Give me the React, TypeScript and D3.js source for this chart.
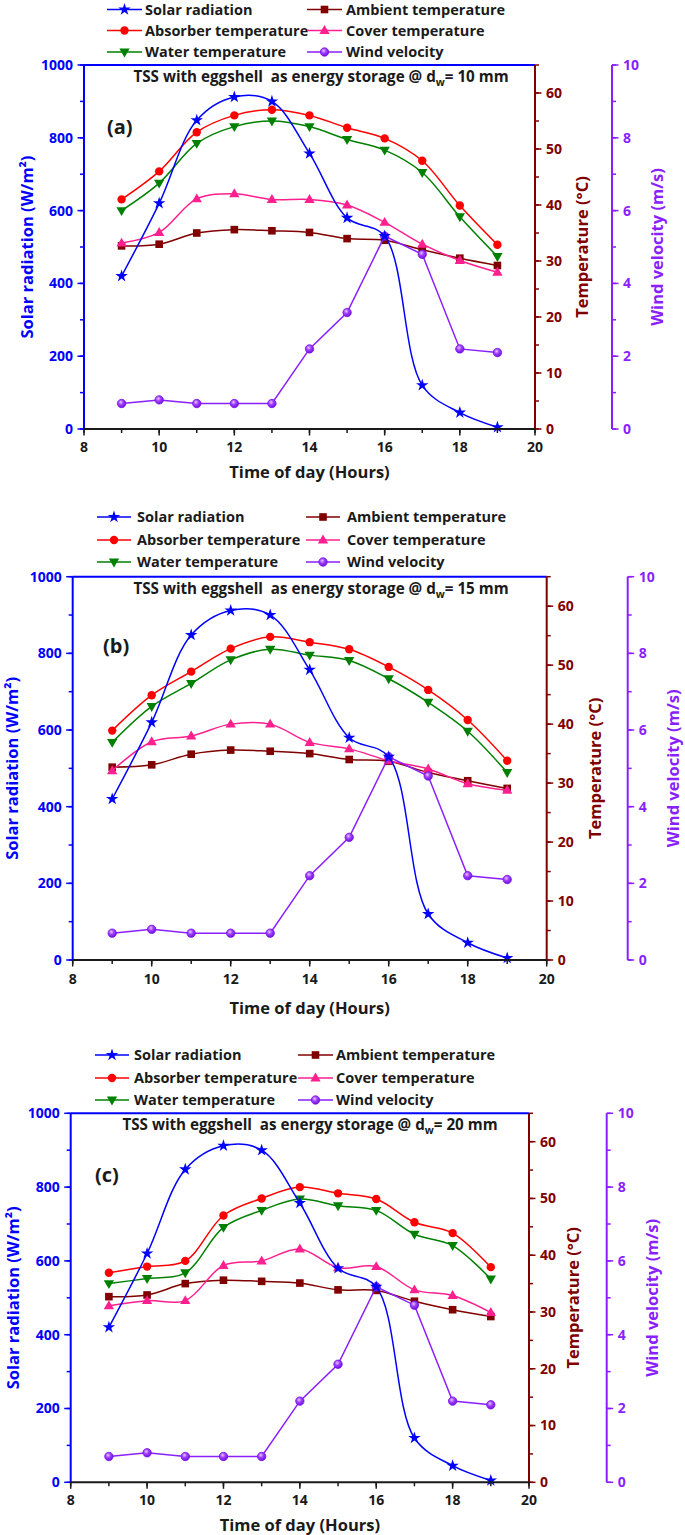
import React from 'react';
import * as d3 from 'd3';

// ---------- data ----------
const hours = [9, 10, 11, 12, 13, 14, 15, 16, 17, 18, 19];
const solarRadiation = [420, 620, 848, 912, 900, 757, 580, 530, 120, 45, 5];
const windVelocity = [0.7, 0.8, 0.7, 0.7, 0.7, 2.2, 3.2, 5.3, 4.8, 2.2, 2.1];

const absorberA = [41, 46, 53, 56, 57, 56, 53.8, 51.9, 47.9, 39.9, 32.9];
const waterA = [39, 43.9, 51, 54, 55, 54, 51.7, 49.8, 45.8, 37.9, 30.8];
const coverA = [33.2, 35.1, 41.1, 42, 41, 41, 40, 36.9, 33, 30.1, 28];
const ambientA = [32.7, 33, 35, 35.6, 35.4, 35.1, 34, 33.7, 32, 30.5, 29.2];

const absorberB = [38.9, 44.9, 48.9, 52.8, 54.8, 53.9, 52.7, 49.7, 45.8, 40.7, 33.8];
const waterB = [36.9, 43, 46.9, 50.9, 52.7, 51.7, 50.8, 47.7, 43.7, 38.8, 31.8];
const coverB = [32.1, 37, 38, 40, 40, 36.9, 35.8, 33.8, 32.4, 29.9, 28.8];
const ambientB = [32.7, 33.1, 34.9, 35.6, 35.4, 35, 34, 33.7, 31.8, 30.4, 29.1];

const absorberC = [36.9, 38, 39, 47, 50, 52, 50.9, 49.9, 45.8, 43.9, 37.9];
const waterC = [35, 35.9, 36.9, 44.9, 47.9, 49.9, 48.7, 47.9, 43.7, 41.7, 35.8];
const coverC = [31.1, 32, 32, 38.2, 39, 41.1, 37.8, 38, 33.9, 32.9, 29.9];
const ambientC = [32.7, 33, 35, 35.6, 35.4, 35.1, 33.9, 33.8, 31.9, 30.4, 29.2];

const storageDepths = ['10', '15', '20'];
const panelLetters = ['(a)', '(b)', '(c)'];
const legendNames = [
  'Solar radiation', 'Ambient temperature',
  'Absorber temperature', 'Cover temperature',
  'Water temperature', 'Wind velocity',
];

// ---------- styles ----------
const FONT = '"Open Sans", "DejaVu Sans", sans-serif';
const C_SOLAR = '#0000ff';
const C_AMB = '#800000';
const C_ABS = '#ff0000';
const C_COVER = '#ff1f8f';
const C_WATER = '#008000';
const C_WIND = '#8a1fff';
const C_TEXT = '#1a1a1a';

type Layout = {
  left: number; right: number; top: number; bottom: number; windX: number;
  legendRows: number[]; col1: [number, number, number]; col2: [number, number, number];
  titleX: number; titleY: number; letterX: number; letterY: number;
  yTitleX: number; tTitleX: number; wTitleX: number; xTickY: number; xTitleY: number;
};

const layouts: Layout[] = [
  { left: 84, right: 535, top: 65, bottom: 429, windX: 612,
    legendRows: [9.5, 30.5, 52], col1: [107, 142, 145], col2: [307, 342, 346],
    titleX: 321, titleY: 82, letterX: 107, letterY: 134,
    yTitleX: 27, tTitleX: 582, wTitleX: 657, xTickY: 452, xTitleY: 478 },
  { left: 72.7, right: 546.7, top: 576.7, bottom: 960, windX: 627.7,
    legendRows: [517, 540, 562], col1: [97, 131, 137], col2: [306, 340, 347],
    titleX: 321, titleY: 594, letterX: 103, letterY: 653,
    yTitleX: 12, tTitleX: 595, wTitleX: 673, xTickY: 984, xTitleY: 1014 },
  { left: 70.7, right: 529, top: 1113.3, bottom: 1482.3, windX: 606.7,
    legendRows: [1055, 1078, 1100], col1: [95, 129, 134], col2: [298, 333, 336],
    titleX: 310, titleY: 1130, letterX: 95, letterY: 1182,
    yTitleX: 13, tTitleX: 573, wTitleX: 652, xTickY: 1505, xTitleY: 1531 },
];

const starPath = d3.symbol().type(d3.symbolStar).size(48)() as string;
const triPath = d3.symbol().type(d3.symbolTriangle).size(46)() as string;

function Marker({ kind, x, y }: { kind: string; x: number; y: number }) {
  switch (kind) {
    case 'star':
      return <path d={starPath} transform={`translate(${x},${y})`} fill={C_SOLAR} />;
    case 'square':
      return <rect x={x - 3.8} y={y - 3.8} width={7.6} height={7.6} fill={C_AMB} />;
    case 'circle':
      return <circle cx={x} cy={y} r={4.2} fill={C_ABS} />;
    case 'up':
      return <path d={triPath} transform={`translate(${x},${y + 0.5})`} fill={C_COVER} />;
    case 'down':
      return <path d={triPath} transform={`translate(${x},${y - 0.5}) rotate(180)`} fill={C_WATER} />;
    case 'sphere':
      return <circle cx={x} cy={y} r={4.2} fill="url(#sphereGrad)" stroke="#7a10e8" strokeWidth={0.8} />;
    default:
      return null;
  }
}

function Panel({ idx, absorber, water, cover, ambient }: {
  idx: number; absorber: number[]; water: number[]; cover: number[]; ambient: number[];
}) {
  const L = layouts[idx];
  const x = d3.scaleLinear().domain([8, 20]).range([L.left, L.right]);
  const yS = d3.scaleLinear().domain([0, 1000]).range([L.bottom, L.top]);
  const yT = d3.scaleLinear().domain([0, 65]).range([L.bottom, L.top]);
  const yW = d3.scaleLinear().domain([0, 10]).range([L.bottom, L.top]);

  const smooth = (ys: number[], sc: d3.ScaleLinear<number, number>) =>
    d3.line<number>().x((_, i) => x(hours[i])).y((v) => sc(v)).curve(d3.curveCatmullRom.alpha(0.5))(ys) as string;
  const straight = (ys: number[], sc: d3.ScaleLinear<number, number>) =>
    d3.line<number>().x((_, i) => x(hours[i])).y((v) => sc(v))(ys) as string;

  const series = [
    { vals: ambient, sc: yT, color: C_AMB, kind: 'square', path: smooth(ambient, yT) },
    { vals: cover, sc: yT, color: C_COVER, kind: 'up', path: smooth(cover, yT) },
    { vals: water, sc: yT, color: C_WATER, kind: 'down', path: smooth(water, yT) },
    { vals: absorber, sc: yT, color: C_ABS, kind: 'circle', path: smooth(absorber, yT) },
    { vals: windVelocity, sc: yW, color: C_WIND, kind: 'sphere', path: straight(windVelocity, yW) },
    { vals: solarRadiation, sc: yS, color: C_SOLAR, kind: 'star', path: smooth(solarRadiation, yS) },
  ];

  const legendKinds = [
    ['star', C_SOLAR], ['square', C_AMB], ['circle', C_ABS], ['up', C_COVER], ['down', C_WATER], ['sphere', C_WIND],
  ];

  const tickFont = { fontFamily: FONT, fontWeight: 700, fontSize: 14 } as const;
  const titleFont = { fontFamily: FONT, fontWeight: 700, fontSize: 16.5 } as const;
  const midY = (L.top + L.bottom) / 2;

  return (
    <g>
      {/* legend */}
      {legendNames.map((name, i) => {
        const row = Math.floor(i / 2);
        const col = i % 2 === 0 ? L.col1 : L.col2;
        const y = L.legendRows[row];
        const [kind, color] = legendKinds[i];
        return (
          <g key={name}>
            <line x1={col[0]} x2={col[1]} y1={y} y2={y} stroke={color} strokeWidth={1.6} />
            <Marker kind={kind} x={(col[0] + col[1]) / 2} y={y} />
            <text x={col[2]} y={y} dy="0.35em" fill={C_TEXT} style={{ ...tickFont, fontSize: 14.5 }}>{name}</text>
          </g>
        );
      })}

      {/* series */}
      {series.map((s, si) => (
        <g key={si}>
          <path d={s.path} fill="none" stroke={s.color} strokeWidth={1.5} />
          {s.vals.map((v, i) => <Marker key={i} kind={s.kind} x={x(hours[i])} y={s.sc(v)} />)}
        </g>
      ))}

      {/* frame top */}
      <line x1={L.left} x2={L.right} y1={L.top} y2={L.top} stroke={C_SOLAR} strokeWidth={2} />

      {/* left axis */}
      <line x1={L.left} x2={L.left} y1={L.top} y2={L.bottom} stroke={C_SOLAR} strokeWidth={2} />
      {yS.ticks(10).map((t) => (
        <line key={'sm' + t} x1={L.left - 4} x2={L.left} y1={yS(t)} y2={yS(t)} stroke={C_SOLAR} strokeWidth={1.5} />
      ))}
      {yS.ticks(5).map((t) => (
        <g key={'s' + t}>
          <line x1={L.left - 6.5} x2={L.left} y1={yS(t)} y2={yS(t)} stroke={C_SOLAR} strokeWidth={1.5} />
          <text x={L.left - 11} y={yS(t)} dy="0.35em" textAnchor="end" fill={C_SOLAR} style={tickFont}>{t}</text>
        </g>
      ))}
      <text transform={`translate(${L.yTitleX},${midY}) rotate(-90)`} textAnchor="middle" dy="0.35em" fill={C_SOLAR} style={titleFont}>
        Solar radiation (W/m²)
      </text>

      {/* temperature axis */}
      <line x1={L.right} x2={L.right} y1={L.top} y2={L.bottom} stroke={C_AMB} strokeWidth={2} />
      {yT.ticks(13).map((t) => (
        <line key={'tm' + t} x1={L.right} x2={L.right + 4} y1={yT(t)} y2={yT(t)} stroke={C_AMB} strokeWidth={1.5} />
      ))}
      {yT.ticks(7).map((t) => (
        <g key={'t' + t}>
          <line x1={L.right} x2={L.right + 6.5} y1={yT(t)} y2={yT(t)} stroke={C_AMB} strokeWidth={1.5} />
          <text x={L.right + 11} y={yT(t)} dy="0.35em" fill={C_AMB} style={tickFont}>{t}</text>
        </g>
      ))}
      <text transform={`translate(${L.tTitleX},${midY}) rotate(-90)`} textAnchor="middle" dy="0.35em" fill={C_AMB} style={titleFont}>
        Temperature (°C)
      </text>

      {/* wind axis */}
      <line x1={L.windX} x2={L.windX} y1={L.top} y2={L.bottom} stroke={C_WIND} strokeWidth={2} />
      {yW.ticks(10).map((t) => (
        <line key={'wm' + t} x1={L.windX} x2={L.windX + 4} y1={yW(t)} y2={yW(t)} stroke={C_WIND} strokeWidth={1.5} />
      ))}
      {yW.ticks(5).map((t) => (
        <g key={'w' + t}>
          <line x1={L.windX} x2={L.windX + 6.5} y1={yW(t)} y2={yW(t)} stroke={C_WIND} strokeWidth={1.5} />
          <text x={L.windX + 11} y={yW(t)} dy="0.35em" fill={C_WIND} style={tickFont}>{t}</text>
        </g>
      ))}
      <text transform={`translate(${L.wTitleX},${midY}) rotate(-90)`} textAnchor="middle" dy="0.35em" fill={C_WIND} style={titleFont}>
        Wind velocity (m/s)
      </text>

      {/* x axis */}
      <line x1={L.left} x2={L.right} y1={L.bottom} y2={L.bottom} stroke={C_TEXT} strokeWidth={2} />
      {x.ticks(12).map((t) => (
        <line key={'xm' + t} x1={x(t)} x2={x(t)} y1={L.bottom} y2={L.bottom + 4} stroke={C_TEXT} strokeWidth={1.5} />
      ))}
      {x.ticks(6).map((t) => (
        <g key={'x' + t}>
          <line x1={x(t)} x2={x(t)} y1={L.bottom} y2={L.bottom + 6.5} stroke={C_TEXT} strokeWidth={1.5} />
          <text x={x(t)} y={L.xTickY} textAnchor="middle" fill={C_TEXT} style={tickFont}>{t}</text>
        </g>
      ))}
      <text x={(L.left + L.right) / 2} y={L.xTitleY} textAnchor="middle" fill={C_TEXT} style={titleFont}>
        Time of day (Hours)
      </text>

      {/* title and panel letter */}
      <text x={L.titleX} y={L.titleY} textAnchor="middle" fill={C_TEXT} style={{ ...tickFont, fontSize: 15.2 }}>
        TSS with eggshell{'\u00A0\u00A0'}as energy storage @ d<tspan dy="4" fontSize="10.5">w</tspan><tspan dy="-4">= {storageDepths[idx]} mm</tspan>
      </text>
      <text x={L.letterX} y={L.letterY} fill={C_TEXT} style={{ ...tickFont, fontSize: 20 }}>{panelLetters[idx]}</text>
    </g>
  );
}

export default function App() {
  return (
    <svg width={685} height={1535} style={{ position: 'absolute', left: 0, top: 0, background: '#fff' }}>
      <defs>
        <radialGradient id="sphereGrad" cx="40%" cy="35%" r="65%">
          <stop offset="0%" stopColor="#e6c8ff" />
          <stop offset="45%" stopColor="#a040ff" />
          <stop offset="100%" stopColor="#7010e0" />
        </radialGradient>
      </defs>
      <rect x={0} y={0} width={685} height={1535} fill="#fff" />
      <Panel idx={0} absorber={absorberA} water={waterA} cover={coverA} ambient={ambientA} />
      <Panel idx={1} absorber={absorberB} water={waterB} cover={coverB} ambient={ambientB} />
      <Panel idx={2} absorber={absorberC} water={waterC} cover={coverC} ambient={ambientC} />
    </svg>
  );
}
